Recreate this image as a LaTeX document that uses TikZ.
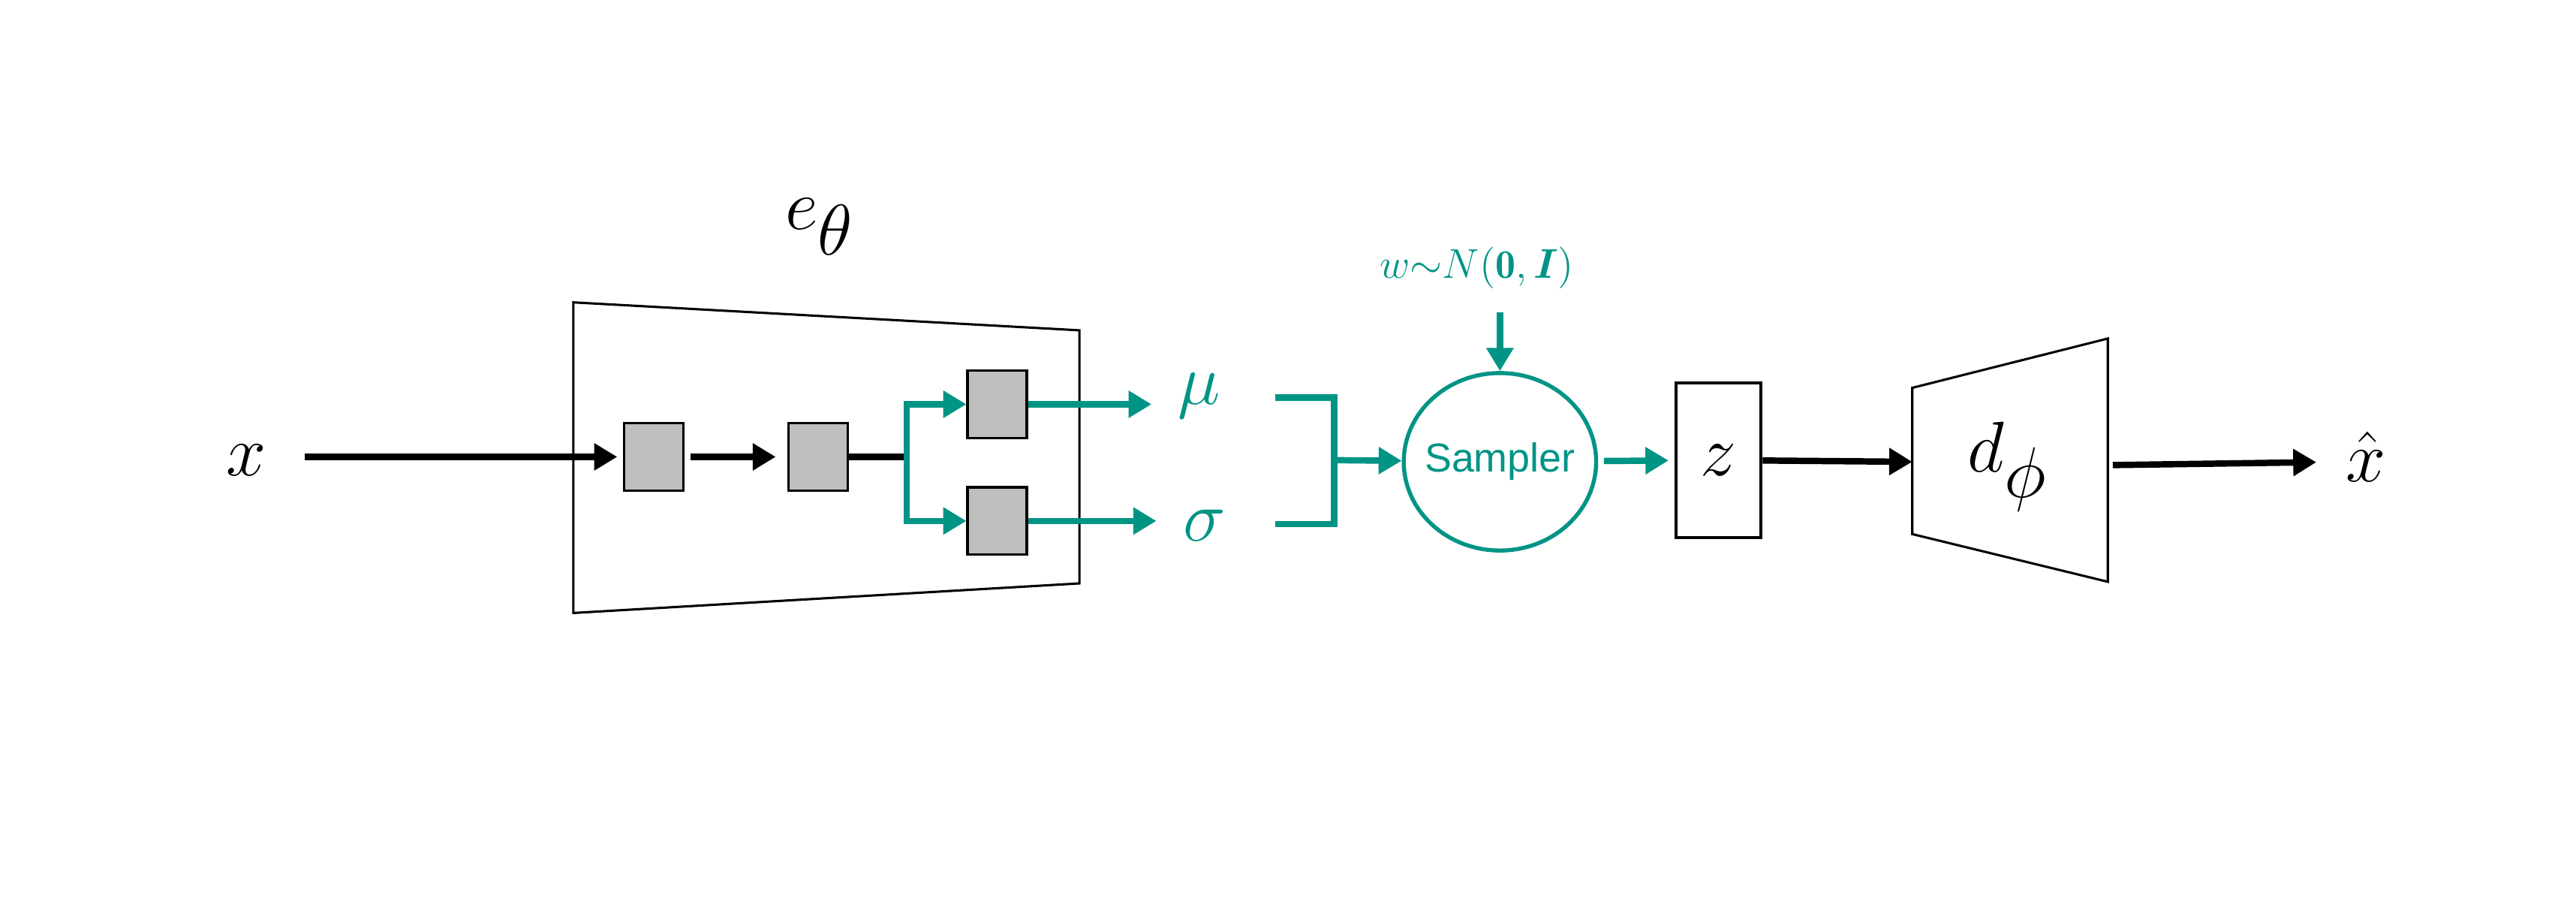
\documentclass[tikz,border=0pt]{standalone}
\usepackage{amsmath}
\usepackage{fontspec}
\usetikzlibrary{arrows.meta, positioning, shapes.geometric}
\newfontfamily\samplerfont{Liberation Sans}
\definecolor{vaeteal}{RGB}{0,148,133}
\definecolor{layergray}{RGB}{191,191,191}

\begin{document}
\begin{tikzpicture}[x=0.02cm, y=-0.02cm,
  layer/.style={rectangle, draw=black, line width=0.9pt, fill=layergray,
                minimum width=0.72cm, minimum height=0.82cm, inner sep=0pt},
  net/.style={draw=black, line width=0.8pt},
  sym/.style={inner sep=0pt, font=\fontsize{42}{46}\selectfont},
  arrow/.style={-{Triangle[length=8pt, width=9pt]}, line width=2.2pt},
  tarrow/.style={arrow, vaeteal},
  tline/.style={line width=2.2pt, vaeteal}
]
\useasboundingbox (0,0) rectangle (1568,546);

% encoder e_theta
\draw[net] (349,184) -- (657,201) -- (657,355) -- (349,373) -- cycle;
\node[sym] (enc) at (499,138) {$e_\theta$};
\node[sym] (x) at (150,280) {$x$};
\node[layer] (l1) at (398,278) {};
\node[layer] (l2) at (498,278) {};
\node[layer] (mu-l) at (607,246) {};
\node[layer] (sig-l) at (607,317) {};
\coordinate (split) at (552,278);

\draw[arrow, shorten <=13pt, shorten >=2pt] (x.east |- l1.west) -- (l1.west);
\draw[arrow, shorten <=2pt, shorten >=4pt] (l1) -- (l2);
\draw[line width=2.2pt] (l2.east) -- (split);
\draw[tarrow] (split) |- (mu-l);
\draw[tarrow] (split) |- (sig-l);

% mean and deviation
\node[sym, text=vaeteal] (mu) at (730,241) {$\mu$};
\node[sym, text=vaeteal] (sig) at (733,320) {$\sigma$};
\draw[tarrow, shorten >=9pt] (mu-l.east) -- (mu-l.east -| mu.west);
\draw[tarrow, shorten >=9pt] (sig-l.east) -- (sig-l.east -| sig.west);

\coordinate (mu-out) at (776,242);
\coordinate (sig-out) at (776,319);
\coordinate (join) at (812,280);
\draw[tline] (mu-out) -| (join) |- (sig-out);

% sampler
\node[ellipse, draw=vaeteal, line width=1.4pt, inner xsep=-2.5pt, inner ysep=0pt,
      minimum height=2.16cm, text=vaeteal,
      font=\samplerfont\fontsize{14}{16}\selectfont] (sampler) at (913,281) {Sampler};
\node[text=vaeteal, inner sep=0pt, font=\fontsize{14}{16}\selectfont] (noise) at (899,163)
  {$w{\sim}N(\mathbf{0},\boldsymbol{I})$};
\draw[tarrow] (join) -- (sampler);
\draw[tarrow] (sampler.north |- 0,190) -- (sampler.north);

% latent z
\node[rectangle, draw=black, line width=1pt, minimum width=1.04cm, minimum height=1.88cm,
      font=\fontsize{42}{46}\selectfont] (z) at (1046,280) {$z$};
\draw[tarrow, shorten <=2pt, shorten >=2pt] (sampler) -- (z);

% decoder d_phi
\draw[net] (1164,236) -- (1283,206) -- (1283,354) -- (1164,325) -- cycle;
\coordinate (dec-in) at (1164,281);
\coordinate (dec-out) at (1286,283);
\node[sym] (dec) at (1222,284) {$d_\phi$};
\node[sym] (xhat) at (1440,278) {$\hat{x}$};
\draw[arrow] (z) -- (dec-in);
\draw[arrow, shorten >=10pt] (dec-out) -- (xhat.west |- 0,281);
\end{tikzpicture}
\end{document}
